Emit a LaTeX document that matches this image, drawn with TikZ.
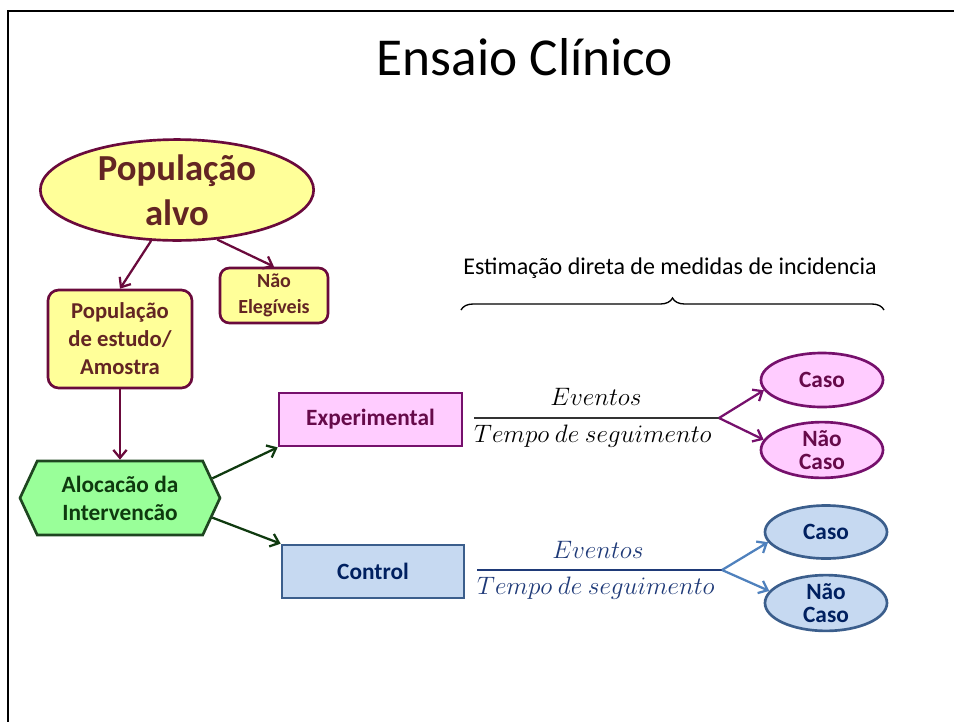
\RequirePackage{fix-cm}
\documentclass[tikz,border=0pt]{standalone}
\usepackage{fontspec}
\setmainfont{Carlito}
\usetikzlibrary{arrows.meta,shapes.geometric,shapes.symbols,decorations.pathreplacing}

\definecolor{amar}{HTML}{FFFF99}
\definecolor{bordo}{HTML}{6A0A3C}
\definecolor{bordoT}{HTML}{632523}
\definecolor{rosaF}{HTML}{FFCCFF}
\definecolor{roxo}{HTML}{76106C}
\definecolor{roxoT}{HTML}{660A4A}
\definecolor{verdeF}{HTML}{99FF99}
\definecolor{verdeB}{HTML}{1E4620}
\definecolor{verdeT}{HTML}{0F3A0F}
\definecolor{azulF}{HTML}{C6D9F1}
\definecolor{azulB}{HTML}{3B5E8C}
\definecolor{azulS}{HTML}{4F81BD}
\definecolor{navy}{HTML}{002060}
\definecolor{fracA}{HTML}{1F3A78}

\begin{document}
\begin{tikzpicture}[x=.75pt, y=-.75pt,
	amarelo/.style={draw=bordo, fill=amar, line width=2pt, text=bordoT, align=center, inner sep=0pt, font=\bfseries\fontsize{17}{21}\selectfont},
	rosa/.style={draw=roxo, fill=rosaF, line width=2pt, text=roxoT, align=center, inner sep=0pt, font=\bfseries\fontsize{17.5}{17.5}\selectfont},
	azul/.style={draw=azulB, fill=azulF, line width=2pt, text=navy, align=center, inner sep=0pt, font=\bfseries\fontsize{17.5}{17.5}\selectfont},
	seta/.style={-{Straight Barb[length=6pt,width=10pt]}, line width=1.7pt},
	fracao/.style={font=\fontsize{18.9}{18.9}\selectfont}]
	%\draw[help lines] (0,0) grid[step=50] (954,722);
	\useasboundingbox (0,0) rectangle (954,722);
	\draw[line width=2.2pt] (954,11) -- (8,11) -- (8,722);
	
	\node (titulo) at (525,57) {\fontsize{40}{48}\selectfont Ensaio Clínico};
	
	\node[amarelo, ellipse, minimum width=205pt, minimum height=63pt, font=\bfseries\fontsize{27.5}{34}\selectfont] (pop) at (177,190) {População\\alvo};
	\node[amarelo, rounded corners=8pt, minimum width=108pt, minimum height=73.5pt] (amostra) at (120,339) {População\\de estudo/\\Amostra};
	\node[amarelo, rounded corners=7pt, minimum width=81pt, minimum height=41.25pt, font=\bfseries\fontsize{15}{19}\selectfont] (nel) at (274,295.5) {Não\\Elegíveis};
	
	\node[signal, signal to=west and east, signal pointer angle=130, draw=verdeB, fill=verdeF, line width=2pt, text=verdeT, align=center, inner sep=0pt, minimum width=150pt, minimum height=55.5pt, font=\bfseries\fontsize{17.5}{21}\selectfont] (aloc) at (120,498) {Alocacão da\\Intervencão};
	
	\node[rosa, minimum width=137.25pt, minimum height=39.75pt] (exp) at (370.5,419.5) {Experimental};
	\node[azul, minimum width=136.5pt, minimum height=39.75pt] (ctl) at (373,571.5) {Control};
	
	% fracoes
	\node[fracao] (ev1) at (596,397) {$Eventos$};
	\node[fracao] (tp1) at (593,436) {$Tempo\ de\ seguimento$};
	\coordinate (f1) at (719,418);
	\draw[line width=1.3pt, black!80] (474,418) -- (f1);
	
	\node[fracao, text=fracA] (ev2) at (598,550) {$Eventos$};
	\node[fracao, text=fracA] (tp2) at (596,588) {$Tempo\ de\ seguimento$};
	\coordinate (f2) at (722,570);
	\draw[line width=1.3pt, fracA] (477,570) -- (f2);
	
	\foreach \n/\yy/\txt in {1/380/Caso, 2/450/Não\\Caso}
	\node[rosa, ellipse, minimum width=91.5pt, minimum height=40.5pt] (ce\n) at (822,\yy) {\txt};
	\foreach \n/\yy/\txt in {1/532/Caso, 2/603/Não\\Caso}
	\node[azul, ellipse, minimum width=91.5pt, minimum height=39.75pt] (cc\n) at (826,\yy) {\txt};
	
	\node[font=\fontsize{18}{21}\selectfont] (estim) at (670,268) {Estimação direta de medidas de incidencia};
	\draw[line width=1pt, decorate, decoration={brace, amplitude=9pt}] (461,310) -- (884,310);
	
	\draw[seta, bordo] (pop.243) -- (amostra.north);
	\draw[seta, bordo] (pop.-51) -- (nel.north);
	\draw[seta, bordo] (amostra.south) -- (aloc.north);
	
	\draw[seta, verdeT] (aloc.12) -- (exp.south west);
	\draw[seta, verdeT] (aloc.-12) -- (ctl.north west);
	
	\draw[seta, roxo] (f1) -- (ce1.190);
	\draw[seta, roxo] (f1) -- (ce2.170);
	\draw[seta, azulS] (f2) -- (cc1.190);
	\draw[seta, azulS] (f2) -- (cc2.168);
\end{tikzpicture}
\end{document}
